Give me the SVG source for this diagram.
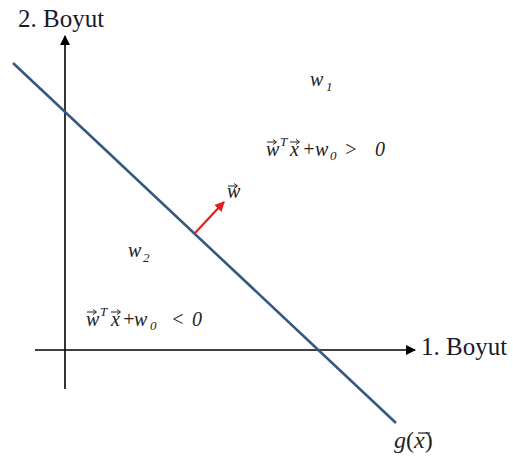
<svg xmlns="http://www.w3.org/2000/svg" width="513" height="461" viewBox="0 0 513 461">
<style>
.ax{stroke:#000;stroke-width:1.6;fill:none}
.lbl{font-family:"Liberation Serif","DejaVu Serif",serif;font-size:25px;fill:#1a1a2a}
.m{font-family:"Liberation Serif","DejaVu Serif",serif;font-style:italic;font-size:20px;fill:#222}
.s{font-size:13px}
.v{stroke:#222;stroke-width:1;fill:none}
</style>
<defs>
<marker id="ah" viewBox="0 0 10 10" refX="9" refY="5" markerWidth="10" markerHeight="11" markerUnits="userSpaceOnUse" orient="auto"><path d="M0,0L10,5L0,10z" fill="#000"/></marker>
<marker id="ar" viewBox="0 0 10 10" refX="9" refY="5" markerWidth="10" markerHeight="10" markerUnits="userSpaceOnUse" orient="auto"><path d="M0,0L10,5L0,10z" fill="#e41e1e"/></marker>
<path id="va" d="M0,0H9M6,-2.5L9.5,0L6,2.5" class="v"/>
</defs>
<rect width="513" height="461" fill="#fff"/>
<g id="connectors">
<line class="ax" x1="65" y1="389" x2="65" y2="36" marker-end="url(#ah)"/>
<line class="ax" x1="35" y1="350" x2="415" y2="350" marker-end="url(#ah)"/>
<line x1="13" y1="63" x2="396" y2="423" stroke="#355782" stroke-width="2.6"/>
<line x1="195" y1="233" x2="224" y2="202" stroke="#e41e1e" stroke-width="2.2" marker-end="url(#ar)"/>
</g>
<g id="axis2"><text class="lbl" x="18" y="27">2. Boyut</text></g>
<g id="axis1"><text class="lbl" x="421" y="355">1. Boyut</text></g>
<g id="w1"><text class="m" x="310" y="86">w</text><text class="m s" x="326" y="91">1</text></g>
<g id="ineq1">
<text class="m" x="266" y="156">w</text>
<use href="#va" x="267" y="142"/>
<text class="m s" x="280" y="146">T</text>
<text class="m" x="290" y="156">x</text>
<use href="#va" x="290" y="142"/>
<text class="m" x="302" y="156" font-style="normal">+</text>
<text class="m" x="315" y="156">w</text>
<text class="m s" x="330" y="160">0</text>
<text class="m" x="344" y="156" font-style="normal">&gt;</text>
<text class="m" x="375" y="156">0</text>
</g>
<g id="wvec"><text class="m" x="227" y="198" font-style="normal" font-size="18">w</text><use href="#va" x="228" y="186"/></g>
<g id="w2"><text class="m" x="128" y="257">w</text><text class="m s" x="143" y="262">2</text></g>
<g id="ineq2">
<text class="m" x="86" y="326">w</text>
<use href="#va" x="87" y="312"/>
<text class="m s" x="100" y="316">T</text>
<text class="m" x="111" y="326">x</text>
<use href="#va" x="111" y="312"/>
<text class="m" x="122" y="326" font-style="normal">+</text>
<text class="m" x="134" y="326">w</text>
<text class="m s" x="150" y="330">0</text>
<text class="m" x="171" y="326" font-style="normal">&lt;</text>
<text class="m" x="192" y="326">0</text>
</g>
<g id="gx"><text x="394" y="448" style="font-family:'Liberation Serif',serif;font-size:24px;fill:#222"><tspan font-style="italic">g</tspan>(<tspan font-style="italic">x</tspan>)</text><line x1="418" y1="433" x2="430" y2="433" stroke="#222" stroke-width="1.2"/></g>
</svg>
